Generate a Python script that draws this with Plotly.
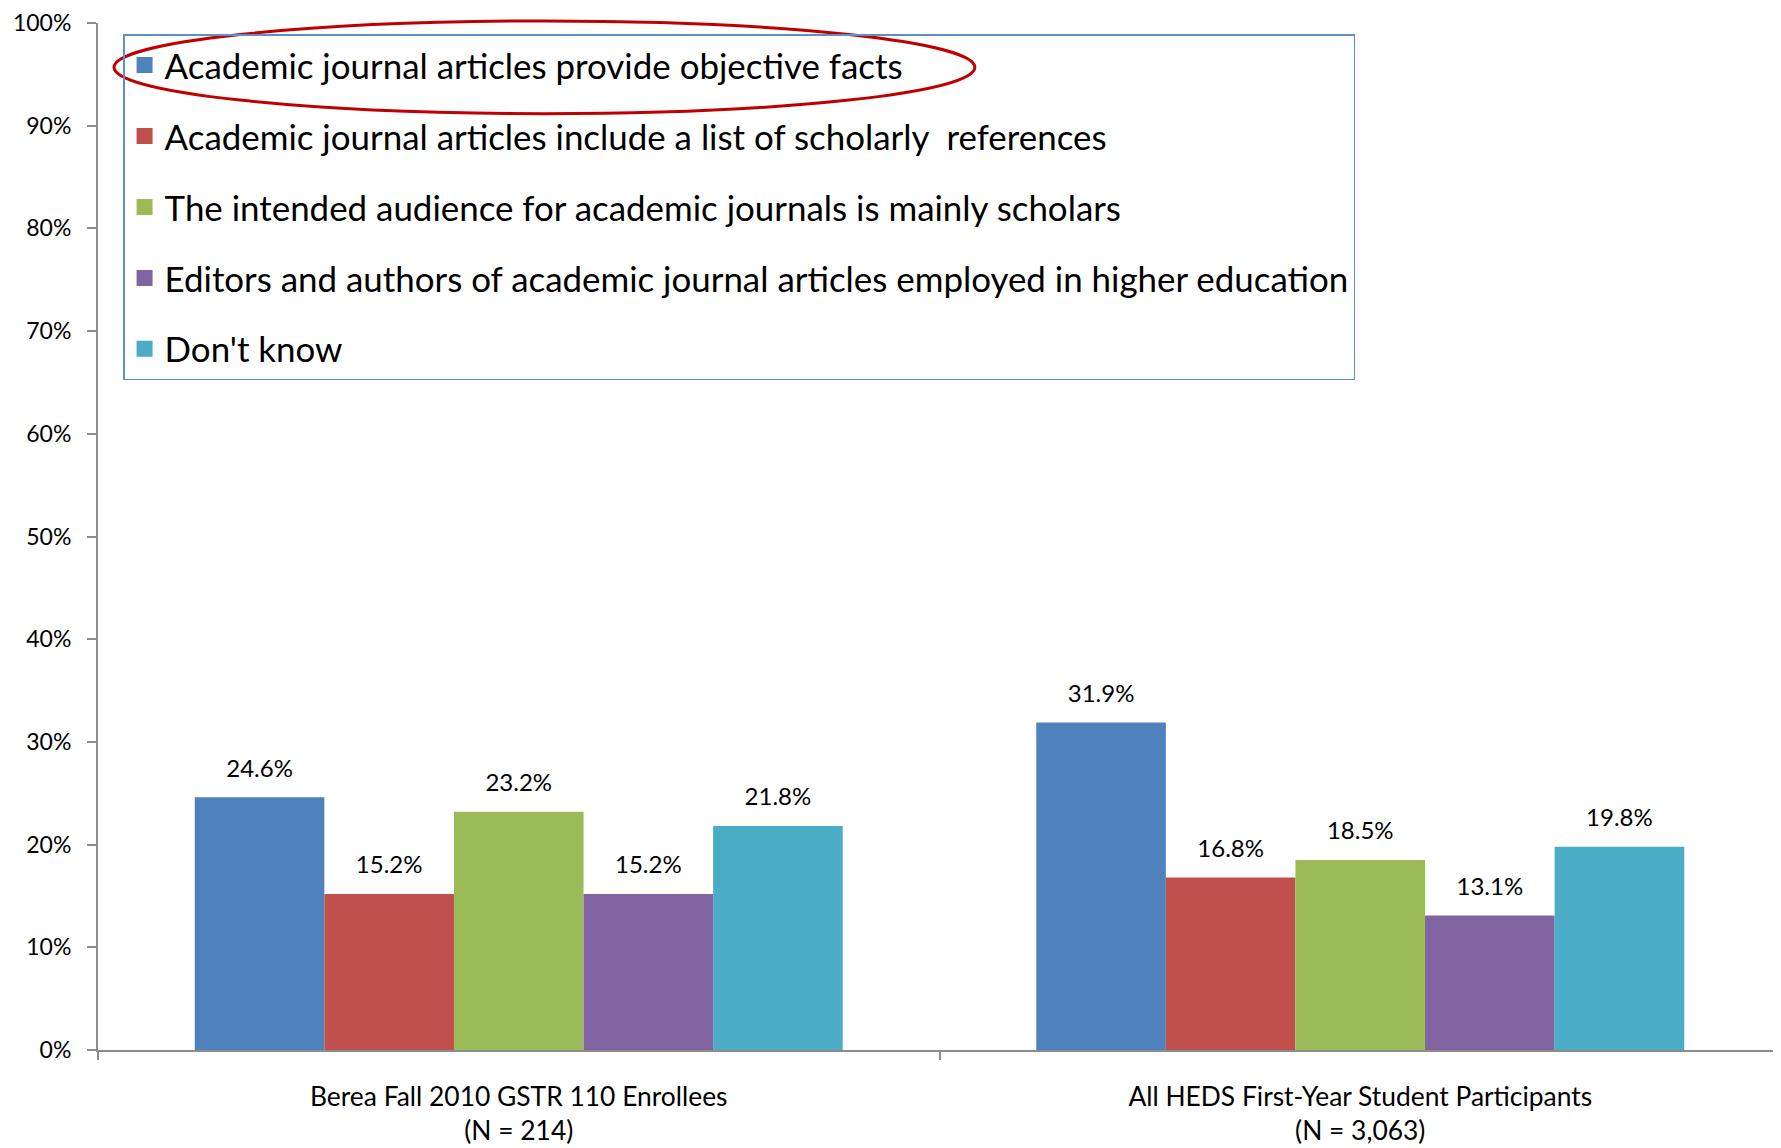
import plotly.graph_objects as go

categories = ["Berea Fall 2010 GSTR 110 Enrollees<br>(N = 214)",
              "All HEDS First-Year Student Participants<br>(N = 3,063)"]
series_names = [
    "Academic journal articles provide objective facts",
    "Academic journal articles include a list of scholarly  references",
    "The intended audience for academic journals is mainly scholars",
    "Editors and authors of academic journal articles employed in higher education",
    "Don't know",
]
objective_facts = [24.6, 31.9]
scholarly_refs = [15.2, 16.8]
audience_scholars = [23.2, 18.5]
editors_higher_ed = [15.2, 13.1]
dont_know = [21.8, 19.8]
series_values = [objective_facts, scholarly_refs, audience_scholars, editors_higher_ed, dont_know]
colors = ["#4F81BD", "#C0504D", "#9BBB59", "#8064A2", "#4BACC6"]
y_ticks = list(range(0, 101, 10))
y_tick_labels = [f"{v}%" for v in y_ticks]

FONT = "Lato, 'Open Sans', sans-serif"

fig = go.Figure()
for i, (name, vals, col) in enumerate(zip(series_names, series_values, colors)):
    fig.add_trace(go.Bar(
        x=categories, y=vals, name=name, marker_color=col,
        marker_line_width=0, offsetgroup=f"s{i}",
        showlegend=False, legendgroup=f"g{i}",
    ))
    # value labels, aligned with the grouped bars
    fig.add_trace(go.Scatter(
        x=categories, y=vals, mode="markers+text",
        marker=dict(size=22, opacity=0),
        text=[f"{v:.1f}%" for v in vals], textposition="top center",
        textfont=dict(size=24, color="black", family=FONT),
        offsetgroup=f"s{i}", cliponaxis=False, showlegend=False,
        hoverinfo="skip", legendgroup=f"g{i}",
    ))
    # legend entry with a larger square swatch
    fig.add_trace(go.Scatter(
        x=[categories[0]], y=[None], mode="markers", name=name,
        marker=dict(symbol="square", size=18, color=col),
        offsetgroup=f"s{i}", legendgroup=f"g{i}", showlegend=True,
    ))

fig.update_layout(
    width=1773, height=1140,
    margin=dict(l=90, r=0, t=12, b=98),
    paper_bgcolor="white", plot_bgcolor="white",
    font=dict(family=FONT, color="black", size=24),
    barmode="group", bargap=0.23, bargroupgap=0,
    scattermode="group", scattergap=0.23,
    showlegend=True,
    legend=dict(
        x=0.0149, y=0.989, xanchor="left", yanchor="top",
        bgcolor="rgba(255,255,255,0)", bordercolor="#5B8FD0", borderwidth=1.5,
        font=dict(size=34.9, family=FONT, color="black"),
        tracegroupgap=22.6, traceorder="grouped",
    ),
    xaxis=dict(
        showline=True, linecolor="#8C8C8C", linewidth=2,
        ticks="outside", tickson="boundaries", ticklen=8, tickcolor="#8C8C8C", tickwidth=1.5,
        tickfont=dict(size=26.4), ticklabelstandoff=22,
        showgrid=False, zeroline=False,
    ),
    yaxis=dict(
        range=[0, 100], tickvals=y_ticks, ticktext=y_tick_labels,
        showline=True, linecolor="#8C8C8C", linewidth=2,
        ticks="outside", ticklen=9, tickcolor="#8C8C8C", tickwidth=1.5,
        tickfont=dict(size=23), ticklabelstandoff=11, ticklabeloverflow="allow",
        showgrid=False, zeroline=False,
    ),
    shapes=[dict(type="circle", xref="paper", yref="paper",
                 x0=0.0095, x1=0.521, y0=0.9117, y1=1.002,
                 line=dict(color="#C00000", width=3), layer="above")],
)

fig.write_html("out.html")
